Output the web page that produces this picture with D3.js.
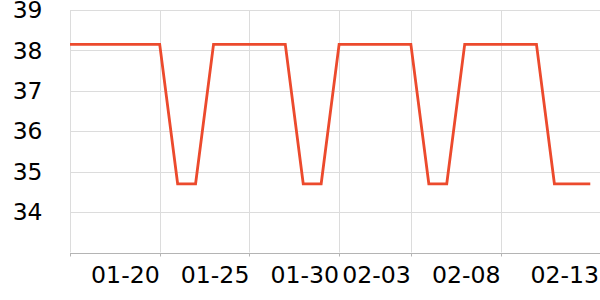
<!DOCTYPE html>
<html><head><meta charset="utf-8">
<script src="https://cdn.jsdelivr.net/npm/d3@7"></script>
<style>body{margin:0;background:#fff}svg{display:block}</style>
</head><body><svg id="c" width="600" height="300"></svg>
<script>
const dates = ["2024-01-15","2024-01-16","2024-01-17","2024-01-18","2024-01-19","2024-01-20","2024-01-21","2024-01-22","2024-01-23","2024-01-24","2024-01-25","2024-01-26","2024-01-27","2024-01-28","2024-01-29","2024-01-30","2024-01-31","2024-02-01","2024-02-02","2024-02-03","2024-02-04","2024-02-05","2024-02-06","2024-02-07","2024-02-08","2024-02-09","2024-02-10","2024-02-11","2024-02-12","2024-02-13"];
const values = [38.15,38.15,38.15,38.15,38.15,38.15,34.7,34.7,38.15,38.15,38.15,38.15,38.15,34.7,34.7,38.15,38.15,38.15,38.15,38.15,34.7,34.7,38.15,38.15,38.15,38.15,38.15,34.7,34.7,34.7];
const yTicks = [34,35,36,37,38,39];
const xTickDates = ["2024-01-20","2024-01-25","2024-01-30","2024-02-03","2024-02-08","2024-02-13"];

(function(){
const parse = d3.timeParse("%Y-%m-%d");
const fmt = d3.timeFormat("%m-%d");
const data = dates.map((d,i)=>({date:parse(d), v:values[i]}));
const svg = d3.select("#c");
const mLeft = 70, mBottom = 252.5, mTop = 10;
const dayPx = 17.95;
const x0 = parse(dates[0]);
const xEnd = d3.timeHour.offset(x0, Math.round((600-mLeft)/dayPx*24));
const x = d3.scaleTime().domain([x0, xEnd]).range([mLeft, 600]);
const y = d3.scaleLinear().domain([33,39]).range([mBottom, mTop]);

const tickDates = xTickDates.map(parse);
const gridDates = [x0].concat(tickDates.filter(d=>x(d) < 580));
const g = svg.append("g");
g.selectAll("line.hg").data(yTicks).join("line")
  .attr("x1", mLeft).attr("x2", 600)
  .attr("y1", d=>Math.round(y(d))+0.5).attr("y2", d=>Math.round(y(d))+0.5)
  .attr("stroke","#dcdcdc").attr("stroke-width",1);
g.selectAll("line.vg").data(gridDates).join("line")
  .attr("x1", d=>Math.round(x(d))+0.5).attr("x2", d=>Math.round(x(d))+0.5)
  .attr("y1", mTop).attr("y2", mBottom)
  .attr("stroke","#dcdcdc").attr("stroke-width",1);

const xa = svg.append("g").attr("transform",`translate(0,${Math.round(mBottom)+0.5})`);
xa.append("line").attr("x1",mLeft).attr("x2",600).attr("stroke","#b4b4b4").attr("stroke-width",1);
xa.selectAll("line.tk").data(gridDates).join("line")
  .attr("x1", d=>Math.round(x(d))+0.5).attr("x2", d=>Math.round(x(d))+0.5)
  .attr("y1",0).attr("y2",3).attr("stroke","#b4b4b4");
xa.selectAll("text").data(tickDates).join("text")
  .attr("transform", d=>`translate(${x(d) > 580 ? 599 : x(d)},29) scale(1.05,1)`)
  .attr("text-anchor","end")
  .attr("font-family","DejaVu Sans")
  .attr("font-size",22.5)
  .attr("fill","#000")
  .text(d=>fmt(d));

svg.append("g").selectAll("text").data(yTicks).join("text")
  .attr("transform", d=>`translate(42.5,${y(d)}) scale(1.04,1)`)
  .attr("dy","0.36em")
  .attr("text-anchor","end")
  .attr("font-family","DejaVu Sans")
  .attr("font-size",22.5)
  .attr("fill","#000")
  .text(d=>d);

svg.append("path").datum(data)
  .attr("fill","none").attr("stroke","#ec4a2d").attr("stroke-width",2.8)
  .attr("stroke-linejoin","miter")
  .attr("d", d3.line().x(d=>x(d.date)).y(d=>y(d.v)));
})();
</script></body></html>
